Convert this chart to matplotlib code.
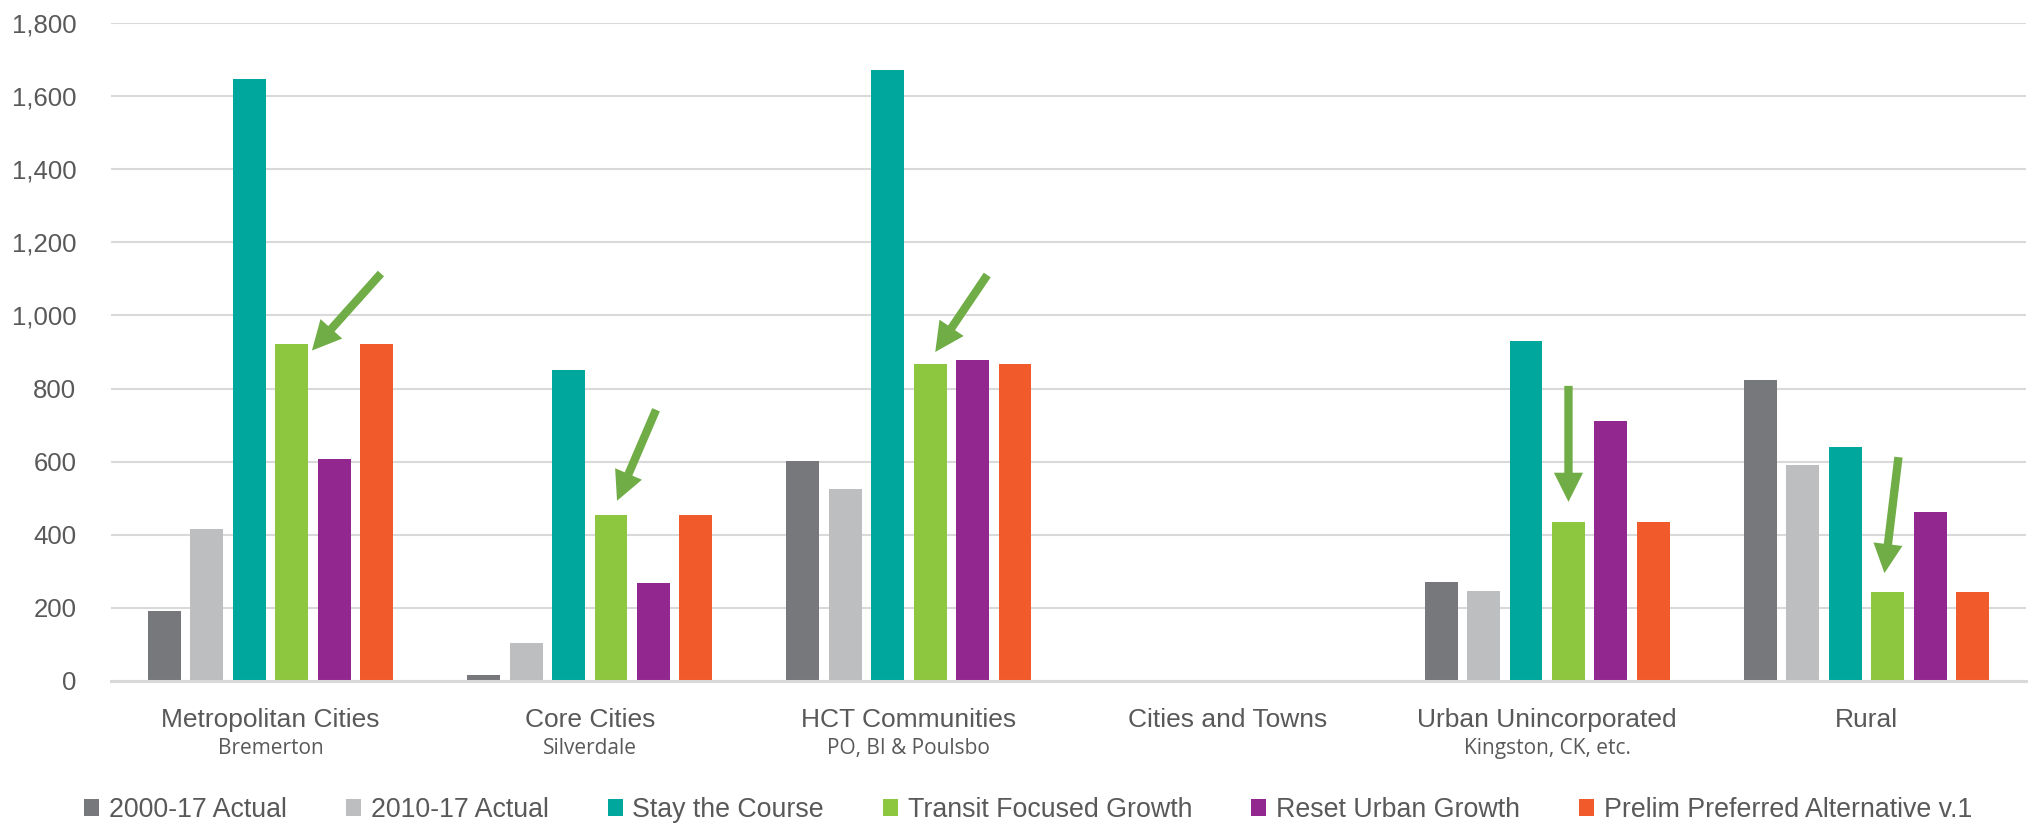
import numpy as np
import matplotlib
matplotlib.use('Agg')
import matplotlib.pyplot as plt
from matplotlib.ticker import FuncFormatter

plt.rcParams['font.family'] = ['Liberation Sans', 'DejaVu Sans']

# chart data
categories = ['Metropolitan Cities', 'Core Cities', 'HCT Communities',
              'Cities and Towns', 'Urban Unincorporated', 'Rural']
subtitles = ['Bremerton', 'Silverdale', 'PO, BI & Poulsbo', '', 'Kingston, CK, etc.', '']

series_names = ['2000-17 Actual', '2010-17 Actual', 'Stay the Course',
                'Transit Focused Growth', 'Reset Urban Growth', 'Prelim Preferred Alternative v.1']
actual_2000_17 = [192, 16, 601, 0, 270, 823]
actual_2010_17 = [415, 104, 524, 0, 247, 590]
stay_the_course = [1647, 850, 1671, 0, 929, 641]
transit_focused = [922, 455, 867, 0, 435, 243]
reset_urban = [607, 269, 877, 0, 710, 463]
prelim_preferred = [922, 455, 867, 0, 435, 243]

colors = ['#77787b', '#bcbec0', '#00a79d', '#8dc63f', '#92278f', '#f15a2b']

# arrows pointing at Transit Focused Growth bars:
# (category, x shift of tip, tip height relative to bar top, tail offset in pixels)
arrows = [
    (0, 0.063, -18, (69, 77)),
    (1, 0.019, 38, (39, 91)),
    (2, 0.016, 33, (52, 77)),
    (4, 0.0, 55, (0, 116)),
    (5, -0.01, 52, (14, 116)),
]

all_series = [actual_2000_17, actual_2010_17, stay_the_course,
              transit_focused, reset_urban, prelim_preferred]

fig = plt.figure(figsize=(20.34, 8.23), dpi=100)
ax = fig.add_axes([111 / 2034, 1 - 681 / 823, (2026 - 111) / 2034, (681 - 23) / 823])

x = np.arange(len(categories))
pitch = 0.133
width = 0.103
for i, (vals, name, col) in enumerate(zip(all_series, series_names, colors)):
    ax.bar(x + (i - 2.5) * pitch, vals, width, color=col, label=name, zorder=2)

ax.set_xlim(-0.5, len(categories) - 0.5)
ax.set_ylim(0, 1800)
ax.set_yticks(np.arange(0, 1801, 200))
ax.yaxis.set_major_formatter(FuncFormatter(lambda v, p: f'{int(v):,}'))
ax.tick_params(axis='y', length=0, pad=25, labelsize=18.5, labelcolor='#595959')
ax.set_xticks([])
ax.grid(axis='y', color='#d9d9d9', linewidth=1.5)
ax.set_axisbelow(True)
for s in ['top', 'right', 'left']:
    ax.spines[s].set_visible(False)
ax.spines['bottom'].set_color('#d9d9d9')
ax.spines['bottom'].set_linewidth(2.2)

# category labels
trans = ax.get_xaxis_transform()
for xi, cat, sub in zip(x, categories, subtitles):
    ax.text(xi, -0.0699, cat, transform=trans, ha='center', va='baseline',
            fontsize=19, color='#595959')
    if sub:
        ax.text(xi, -0.111, sub, transform=trans, ha='center', va='baseline',
                fontsize=15, color='#595959', family='Open Sans')

# arrows
for cat, dx, dy, tail in arrows:
    xt = x[cat] + 0.5 * pitch + dx
    yt = transit_focused[cat] + dy
    ax.annotate('', xy=(xt, yt), xytext=tail, textcoords='offset pixels',
                arrowprops=dict(arrowstyle='simple,head_length=21,head_width=21,tail_width=6',
                                mutation_scale=1, color='#70ad47', lw=0,
                                shrinkA=0, shrinkB=0), zorder=5)

fig.legend(loc='center left', bbox_to_anchor=(84 / 2034, 1 - 810 / 823), ncol=6,
           frameon=False, fontsize=19.3, handlelength=0.56, handleheight=0.56,
           handletextpad=0.37, columnspacing=2.2, borderpad=0, borderaxespad=0,
           labelcolor='#595959')

fig.savefig('out.png', dpi=100)
